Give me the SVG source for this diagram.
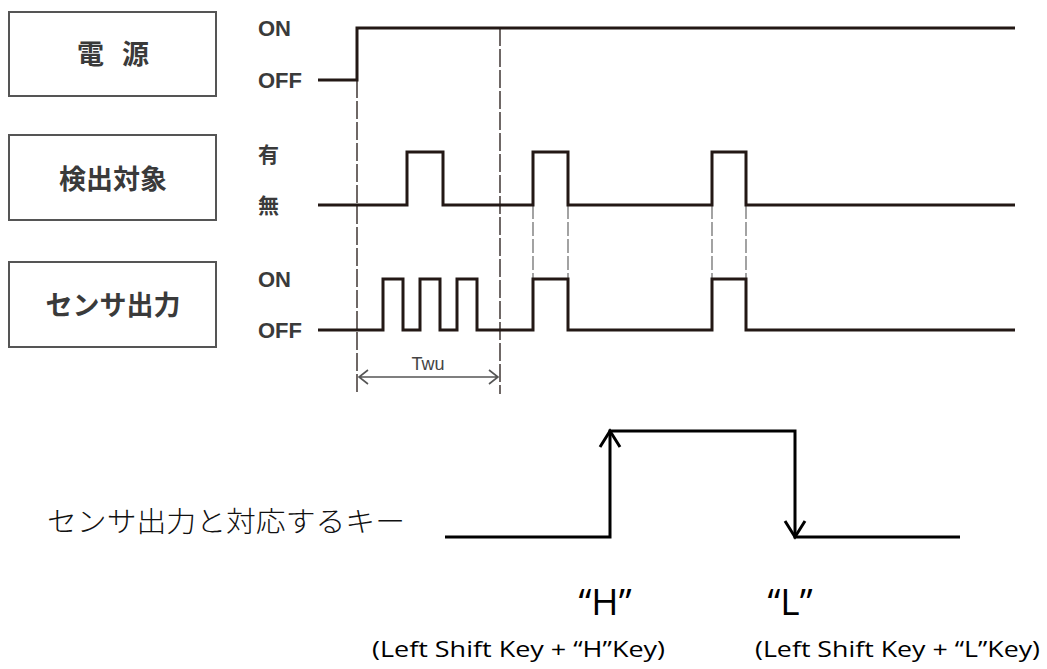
<svg xmlns="http://www.w3.org/2000/svg" width="1047" height="669" viewBox="0 0 1047 669">
<style>
.box{fill:#fff;stroke:#555;stroke-width:2}
.boxt{font-family:"Noto Sans CJK JP",sans-serif;font-weight:bold;font-size:27px;fill:#3a3a3a;text-anchor:middle}
.lbl{font-family:"Liberation Sans",sans-serif;font-weight:bold;font-size:22px;fill:#3a3a3a}
.lblj{font-family:"Noto Sans CJK JP",sans-serif;font-weight:bold;font-size:21px;fill:#3a3a3a}
.sig{fill:none;stroke:#231815;stroke-width:3;stroke-linejoin:miter}
.dash{fill:none;stroke:#231815;stroke-width:1.3;stroke-dasharray:18 3}
.dash2{fill:none;stroke:#666;stroke-width:1.2;stroke-dasharray:14 3}
.dim{fill:none;stroke:#555;stroke-width:1.6}
.key{fill:none;stroke:#000;stroke-width:3}
.cal{font-family:"Open Sans","Liberation Sans",sans-serif;fill:#000}
</style>
<g id="node-power"><rect class="box" x="9" y="12" width="207" height="84"/><text class="boxt" x="113" y="64" word-spacing="12">電 源</text></g>
<g id="node-detect"><rect class="box" x="9" y="135" width="207" height="85"/><text class="boxt" x="113" y="189">検出対象</text></g>
<g id="node-sensor"><rect class="box" x="9" y="262" width="207" height="85"/><text class="boxt" x="113" y="315">センサ出力</text></g>
<g id="labels">
<text class="lbl" x="258" y="36">ON</text>
<text class="lbl" x="258" y="88">OFF</text>
<text class="lblj" x="258" y="162">有</text>
<text class="lblj" x="258" y="213">無</text>
<text class="lbl" x="258" y="287">ON</text>
<text class="lbl" x="258" y="338">OFF</text>
</g>
<g id="connectors">
<path class="dash" d="M357 80 V394 M500 28 V394"/>
<path class="dash2" d="M533 205 V279 M568 205 V279 M712 205 V279 M746 205 V279"/>
<path class="sig" d="M318 80 H357 V28 H1015"/>
<path class="sig" d="M318 205 H407 V152 H443 V205 H533 V152 H568 V205 H712 V152 H746 V205 H1015"/>
<path class="sig" d="M318 330 H383 V279 H403 V330 H420 V279 H440 V330 H457 V279 H477 V330 H533 V279 H568 V330 H712 V279 H746 V330 H1015"/>
<path class="dim" d="M359 377 H498 M368 370 L359 377 L368 384 M489 370 L498 377 L489 384"/>
<path class="key" d="M445 537 H610 V431 H795 V537 H960"/>
<path class="key" d="M600 447 L610 431 L620 447 M785 521 L795 537 L805 521"/>
</g>
<text x="428" y="370" font-family="Liberation Sans,sans-serif" font-size="18" fill="#444" text-anchor="middle">Twu</text>
<text x="47" y="532" font-family="Noto Sans CJK JP,sans-serif" font-size="28" font-weight="300" fill="#111" textLength="358" lengthAdjust="spacingAndGlyphs">センサ出力と対応するキー</text>
<text class="cal" x="605" y="615" font-size="37" text-anchor="middle">“H”</text>
<text class="cal" x="790" y="615" font-size="37" text-anchor="middle">“L”</text>
<text class="cal" x="372" y="657" font-size="22" textLength="293" lengthAdjust="spacingAndGlyphs">(Left Shift Key + “H”Key)</text>
<text class="cal" x="755" y="657" font-size="22" textLength="285" lengthAdjust="spacingAndGlyphs">(Left Shift Key + “L”Key)</text>
</svg>
